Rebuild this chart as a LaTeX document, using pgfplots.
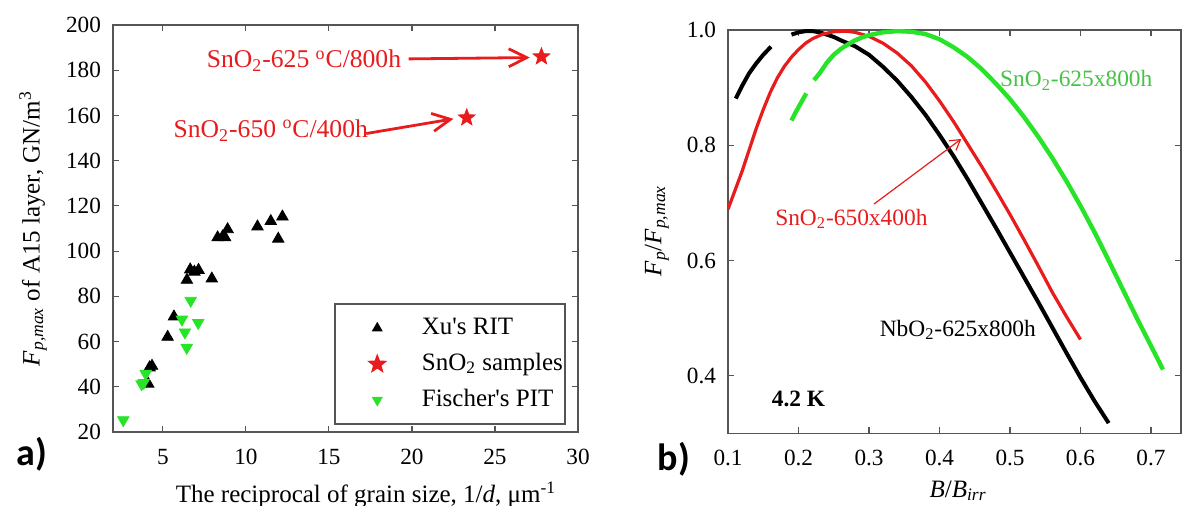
\documentclass[border=0pt]{standalone}
\usepackage{fontspec}
\setmainfont{Liberation Serif}
\newfontfamily\panelfont{Carlito}
\usepackage{pgfplots}
\pgfplotsset{compat=1.18}
\usetikzlibrary{arrows.meta}

\definecolor{myred}{RGB}{232,28,28}
\definecolor{mygreen}{RGB}{40,228,40}
\definecolor{labgreen}{RGB}{70,195,70}
\definecolor{axgray}{RGB}{85,85,85}

% filled five-point star
\pgfdeclareplotmark{fstar}{%
  \pgfpathmoveto{\pgfpointpolar{90}{\pgfplotmarksize}}%
  \pgfpathlineto{\pgfpointpolar{126}{0.42\pgfplotmarksize}}%
  \pgfpathlineto{\pgfpointpolar{162}{\pgfplotmarksize}}%
  \pgfpathlineto{\pgfpointpolar{198}{0.42\pgfplotmarksize}}%
  \pgfpathlineto{\pgfpointpolar{234}{\pgfplotmarksize}}%
  \pgfpathlineto{\pgfpointpolar{270}{0.42\pgfplotmarksize}}%
  \pgfpathlineto{\pgfpointpolar{306}{\pgfplotmarksize}}%
  \pgfpathlineto{\pgfpointpolar{342}{0.42\pgfplotmarksize}}%
  \pgfpathlineto{\pgfpointpolar{18}{\pgfplotmarksize}}%
  \pgfpathlineto{\pgfpointpolar{54}{0.42\pgfplotmarksize}}%
  \pgfpathclose
  \pgfusepathqfillstroke}

% straight apostrophe
\newcommand{\ap}{{\addfontfeatures{Ligatures=TeXOff}'}}

\pgfplotsset{
  common/.style={
    scale only axis,
    tick align=inside,
    major tick length=3pt,
    axis line style={axgray, line width=0.8pt},
    tick style={axgray, line width=0.6pt},
    tick label style={font=\fontsize{11.6}{13}\selectfont},
    xticklabel style={yshift=-5pt},
    yticklabel style={xshift=-2.5pt},
    /pgf/number format/assume math mode=true,
    label style={font=\fontsize{12.5}{14}\selectfont},
  },
}

\begin{document}
\begin{tikzpicture}[x=0.5pt,y=0.5pt]
\path[use as bounding box] (0,0) rectangle (1186,506);

% ---------- panel a ----------
\begin{axis}[common,
  at={(56.5pt,37pt)}, anchor=south west,
  width=232.5pt, height=203.5pt,
  xmin=2, xmax=30, ymin=20, ymax=200,
  xtick={5,10,15,20,25,30},
  ytick={20,40,60,80,100,120,140,160,180,200},
  xlabel={The reciprocal of grain size, 1/\textit{d}, μm\textsuperscript{-1}},
  ylabel={\textit{F}\textsubscript{\textit{p,max}} of A15 layer, GN/m\textsuperscript{3}},
  xlabel style={at={(rel axis cs:0.544,-0.155)}, anchor=center},
  ylabel style={at={(rel axis cs:-0.172,0.5)}, anchor=center},
  legend style={at={(rel axis cs:0.9735,0.316)}, anchor=north east,
    draw=axgray, line width=0.8pt, inner xsep=0pt, inner ysep=5pt,
    row sep=4pt, font=\fontsize{12.5}{14}\selectfont,
    nodes={inner sep=1pt, text height=9pt, text depth=3pt}},
  legend cell align=left,
  legend image code/.code={\path (-20.6pt,0pt) (20.9pt,0pt);
    \draw[#1] plot coordinates {(0pt,0pt)};},
  legend image post style={mark size=2.4pt},
  clip=false,
]
\addplot[only marks, mark=triangle*, mark size=3.3pt, black] coordinates {
  (4.12,41.3) (4.20,48.5) (4.35,49.2) (5.29,62.0) (5.67,71.0)
  (6.45,87.2) (6.65,91.8) (6.90,90.8) (7.15,91.6) (7.95,87.8)
  (8.30,106.0) (8.60,106.4) (8.75,106.0) (8.90,109.6)
  (10.70,110.8) (11.50,113.2) (12.20,115.2) (11.95,105.4)
};
\addlegendentry{Xu\ap s RIT}
\addplot[only marks, mark=fstar, mark size=4.4pt, myred,
  legend image post style={mark size=4.2pt}] coordinates {
  (27.8,186) (23.3,159)
};
\addlegendentry{SnO\textsubscript{2} samples}
\addplot[only marks, mark=triangle*, mark size=3.3pt,
  mark options={rotate=180}, mygreen] coordinates {
  (2.62,25.3) (3.72,41.2) (3.85,41.8) (3.97,45.8) (6.15,69.8)
  (6.68,78.1) (7.13,68.3) (6.33,64.1) (6.44,57.3)
};
\addlegendentry{Fischer\ap s PIT}

\node[myred, font=\fontsize{12.8}{14}\selectfont, anchor=center]
  at (axis cs:13.5,184.2) {SnO\textsubscript{2}-625 \textsuperscript{o}C/800h};
\node[myred, font=\fontsize{12.8}{14}\selectfont, anchor=center]
  at (axis cs:11.5,153.3) {SnO\textsubscript{2}-650 \textsuperscript{o}C/400h};
\draw[myred, line width=1.4pt, -{Straight Barb[length=9pt,width=9pt]}]
  (axis cs:19.8,185) -- (axis cs:27.1,185.6);
\draw[myred, line width=1.4pt, -{Straight Barb[length=9pt,width=9pt]}]
  (axis cs:17.25,152) -- (axis cs:22.5,158.5);
\end{axis}

% ---------- panel b ----------
\begin{axis}[common,
  at={(364pt,36.25pt)}, anchor=south west,
  width=226.5pt, height=201.75pt,
  xmin=0.1, xmax=0.7426, ymin=0.3, ymax=1.0,
  xtick={0.1,0.2,0.3,0.4,0.5,0.6,0.7},
  ytick={0.4,0.6,0.8,1.0},
  xticklabel style={/pgf/number format/.cd, fixed, fixed zerofill, precision=1},
  yticklabel style={/pgf/number format/.cd, fixed, fixed zerofill, precision=1},
  xlabel={\textit{B}/\textit{B}\textsubscript{\textit{irr}}},
  ylabel={\textit{F}\textsubscript{\textit{p}}/\textit{F}\textsubscript{\textit{p,max}}},
  xlabel style={at={(rel axis cs:0.508,-0.142)}, anchor=center},
  ylabel style={at={(rel axis cs:-0.157,0.502)}, anchor=center},
]
% NbO2-625x800h
\addplot[black, line width=2pt, no marks] coordinates {
  (0.111,0.881) (0.120,0.903) (0.130,0.925) (0.140,0.942) (0.150,0.957) (0.161,0.971)
};
\addplot[black, line width=2pt, no marks] coordinates {
  (0.190,0.992) (0.200,0.996) (0.210,0.998) (0.220,0.998) (0.230,0.996)
  (0.240,0.992) (0.250,0.988) (0.262,0.981) (0.280,0.972) (0.300,0.957)
  (0.320,0.936) (0.340,0.912) (0.360,0.884) (0.380,0.853) (0.400,0.818)
  (0.420,0.781) (0.440,0.741) (0.460,0.699) (0.480,0.657) (0.500,0.614)
  (0.520,0.571) (0.540,0.528) (0.560,0.484) (0.580,0.440) (0.600,0.397)
  (0.620,0.356) (0.640,0.318)
};
% SnO2-650x400h
\addplot[myred, line width=1.6pt, no marks] coordinates {
  (0.100,0.689) (0.110,0.722) (0.120,0.755) (0.130,0.792) (0.140,0.829)
  (0.150,0.862) (0.160,0.892) (0.170,0.917) (0.180,0.937) (0.190,0.953)
  (0.200,0.966) (0.210,0.977) (0.220,0.985) (0.235,0.993) (0.250,0.997)
  (0.267,0.998) (0.280,0.996) (0.300,0.989) (0.320,0.977) (0.340,0.960)
  (0.360,0.938) (0.380,0.910) (0.400,0.877) (0.420,0.841) (0.440,0.802)
  (0.460,0.763) (0.480,0.722) (0.500,0.680) (0.520,0.636) (0.540,0.591)
  (0.560,0.545) (0.580,0.503) (0.600,0.463)
};
% SnO2-625x800h
\addplot[mygreen, line width=2.2pt, no marks] coordinates {
  (0.190,0.843) (0.195,0.855) (0.200,0.866) (0.205,0.877) (0.211,0.890)
};
\addplot[mygreen, line width=2.2pt, no marks] coordinates {
  (0.222,0.913) (0.230,0.925) (0.240,0.943) (0.250,0.957) (0.260,0.967)
  (0.270,0.975) (0.280,0.982) (0.290,0.987) (0.300,0.991) (0.320,0.996)
  (0.340,0.998) (0.360,0.997) (0.380,0.993) (0.400,0.984) (0.420,0.970)
  (0.440,0.953) (0.460,0.932) (0.480,0.907) (0.500,0.880) (0.520,0.849)
  (0.540,0.815) (0.560,0.778) (0.580,0.738) (0.600,0.695) (0.620,0.649)
  (0.640,0.600) (0.660,0.550) (0.680,0.500) (0.700,0.452) (0.717,0.411)
};
\node[labgreen, font=\fontsize{11.7}{13}\selectfont] at (axis cs:0.594,0.913)
  {SnO\textsubscript{2}-625x800h};
\node[myred, font=\fontsize{11.7}{13}\selectfont] at (axis cs:0.275,0.672)
  {SnO\textsubscript{2}-650x400h};
\node[black, font=\fontsize{11.7}{13}\selectfont] at (axis cs:0.426,0.48)
  {NbO\textsubscript{2}-625x800h};
\node[black, font=\bfseries\fontsize{11.7}{13}\selectfont] at (axis cs:0.2,0.36)
  {4.2 K};
\draw[myred, line width=0.6pt, -{Straight Barb[length=5pt,width=6pt]}]
  (axis cs:0.307,0.698) -- (axis cs:0.431,0.811);
\end{axis}

\node[font=\panelfont\bfseries\fontsize{19}{22}\selectfont] at (31.6,52) {a)};
\node[font=\panelfont\bfseries\fontsize{19}{22}\selectfont] at (674,47) {b)};
\end{tikzpicture}
\end{document}
